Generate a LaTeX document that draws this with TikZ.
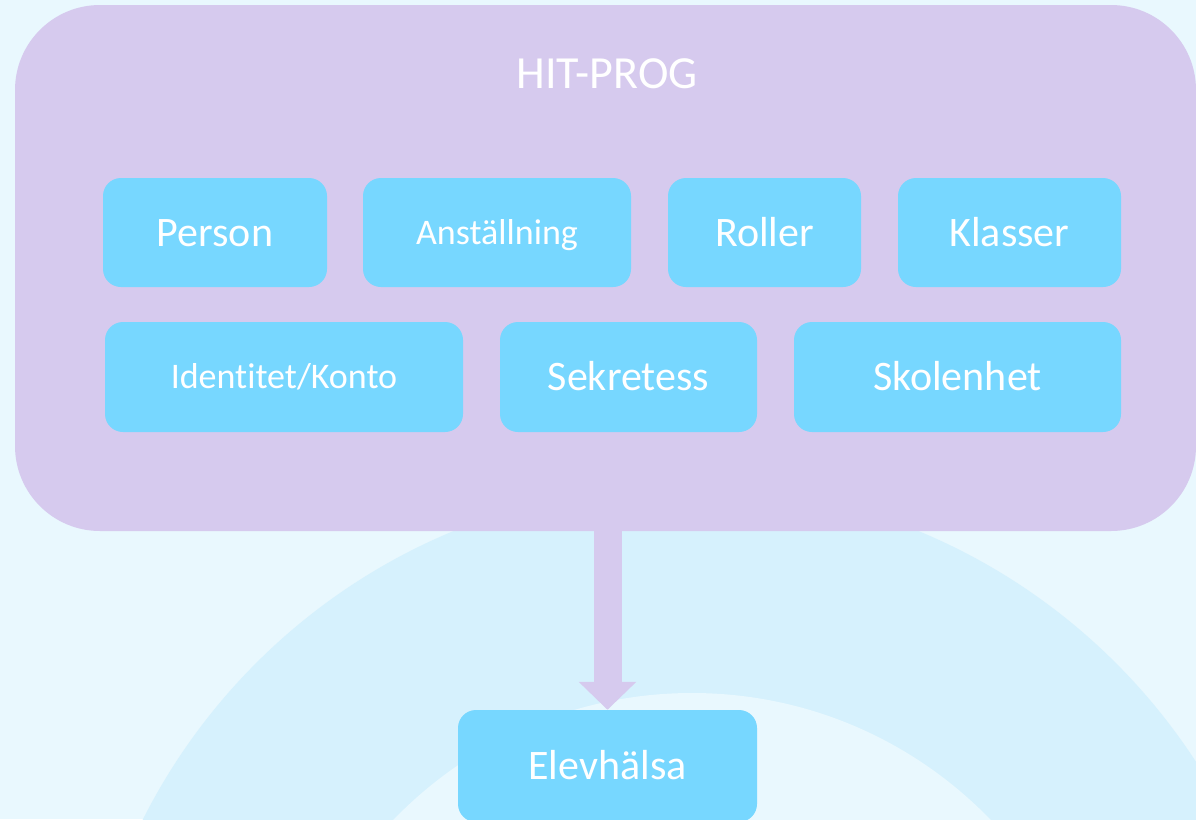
\documentclass[tikz,border=0pt]{standalone}
\usepackage{fontspec}
\setmainfont{Carlito}[Ligatures=NoCommon]
\usetikzlibrary{arrows.meta}
\definecolor{bgblue}{HTML}{E9F8FE}
\definecolor{ringblue}{HTML}{D6F1FD}
\definecolor{lilac}{HTML}{D6CAEE}
\definecolor{boxblue}{HTML}{77D7FF}
\begin{document}
\begin{tikzpicture}[x=1pt, y=-1pt,
    entbox/.style={fill=boxblue, rounded corners=18pt, text=white, inner sep=0pt,
      text height=27pt, text depth=0pt, font=\fontsize{42}{50}\selectfont},
    smalltext/.style={text height=23pt, font=\fontsize{36}{44}\selectfont}]
    \useasboundingbox (0,0) rectangle (1196,819);
    \fill [bgblue] (0,0) rectangle (1196,819);
    \begin{scope}
    \clip (0,0) rectangle (1196,819);
    \fill [ringblue] (686,1093) circle [radius = 608pt];
    \fill [bgblue] (692,1108) circle [radius = 415pt];
    \end{scope}
    \node [fill=lilac, rounded corners=85pt, minimum width=1181pt, minimum height=526pt] (hitbox) at (605.5,268) {};
    \node [text=white, inner sep=0pt, text height=30pt, text depth=0pt, font=\fontsize{46}{54}\selectfont] (hittitle) at (607,73) {HIT-PROG};
    \node [entbox, minimum width=224pt, minimum height=109pt] (person) at (215,232.5) {Person};
    \node [entbox, smalltext, minimum width=268pt, minimum height=109pt] (anst) at (497,232.5) {Anställning};
    \node [entbox, minimum width=193pt, minimum height=109pt] (roller) at (764.5,232.5) {Roller};
    \node [entbox, minimum width=223pt, minimum height=109pt] (klasser) at (1009.5,232.5) {Klasser};
    \node [entbox, smalltext, minimum width=358pt, minimum height=110pt] (ident) at (284,377) {Identitet/Konto};
    \node [entbox, minimum width=257pt, minimum height=110pt] (sekr) at (628.5,377) {Sekretess};
    \node [entbox, minimum width=327pt, minimum height=110pt] (skol) at (957.5,377) {Skolenhet};
    \node [entbox, minimum width=299pt, minimum height=112pt] (elev) at (607.5,766) {Elevhälsa};
    \draw [lilac, line width=28pt, -{Triangle[width=56pt, length=28pt]}] (hitbox.south -| elev.north) -- (elev.north);
\end{tikzpicture}
\end{document}
